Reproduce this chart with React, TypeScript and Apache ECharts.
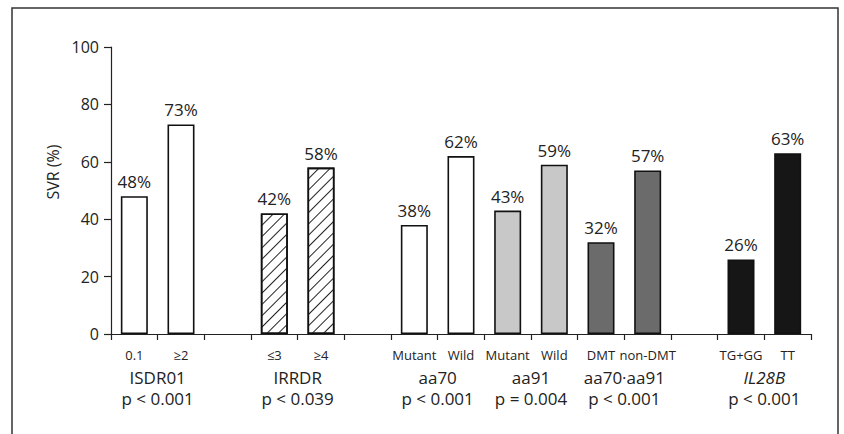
import React, { useEffect, useRef } from "react";
import * as echarts from "echarts";

// ---- data ----
const categories = ["0.1", "≥2", "", "≤3", "≥4", "", "Mutant", "Wild", "Mutant", "Wild", "DMT", "non-DMT", "", "TG+GG", "TT"];
const svrValues: (number | null)[] = [48, 73, null, 42, 58, null, 38, 62, 43, 59, 32, 57, null, 26, 63];
const groupNames = ["ISDR01", "IRRDR", "aa70", "aa91", "aa70·aa91", "IL28B"];
const pValues = ["p < 0.001", "p < 0.039", "p < 0.001", "p = 0.004", "p < 0.001", "p < 0.001"];
const groupMembers = [[0, 1], [3, 4], [6, 7], [8, 9], [10, 11], [13, 14]];
const yTicks = [0, 20, 40, 60, 80, 100];

const FONT = "Open Sans";

export default function App() {
  const ref = useRef<HTMLDivElement>(null);
  useEffect(() => {
    if (!ref.current) return;
    const chart = echarts.init(ref.current, null, { renderer: "svg" });

    const groupStyles: any[] = [
      { color: "#ffffff" },
      {
        color: "#ffffff",
        decal: {
          symbol: "rect",
          symbolSize: 1,
          color: "#222",
          dashArrayX: [1, 0],
          dashArrayY: [1, 7],
          rotation: -Math.PI / 4,
        },
      },
      { color: "#ffffff" },
      { color: "#c8c8c8" },
      { color: "#6b6b6b" },
      { color: "#161616" },
    ];

    const groupOf = (i: number) => groupMembers.findIndex((m) => m.includes(i));

    const data = svrValues.map((v, i) => {
      if (v === null) return { value: null };
      const g = groupOf(i);
      return {
        value: v,
        itemStyle: { ...groupStyles[g], borderColor: "#111", borderWidth: 1.6 },
      };
    });

    const groupCenters = groupMembers.map((m) => (m[0] + m[1] + 1) / 2);

    chart.setOption({
      animation: false,
      textStyle: { fontFamily: FONT },
      grid: { left: 111, right: 33, top: 47, bottom: 100, containLabel: false },
      xAxis: [
        {
          type: "category",
          data: categories,
          boundaryGap: true,
          axisLine: { show: true, lineStyle: { color: "#222", width: 1.2 } },
          axisTick: { show: true, interval: 0, length: 6, lineStyle: { color: "#222", width: 1.2 } },
          axisLabel: { interval: 0, fontSize: 13, color: "#222", margin: 14, fontFamily: FONT },
        },
        {
          type: "value",
          min: 0,
          max: categories.length,
          position: "bottom",
          axisLine: { show: false },
          axisTick: { show: false },
          splitLine: { show: false },
          axisLabel: {
            customValues: groupCenters,
            margin: 33,
            fontFamily: FONT,
            color: "#222",
            formatter: (val: number) => {
              const gi = groupCenters.findIndex((c) => Math.abs(c - val) < 1e-6);
              if (gi < 0) return "";
              const nameStyle = groupNames[gi] === "IL28B" ? "it" : "n";
              return `{${nameStyle}|${groupNames[gi]}}\n{p|${pValues[gi]}}`;
            },
            rich: {
              n: { fontSize: 17, lineHeight: 21, color: "#222", fontFamily: FONT },
              it: { fontSize: 17, lineHeight: 21, color: "#222", fontStyle: "italic", fontFamily: FONT },
              p: { fontSize: 17, lineHeight: 21, color: "#222", fontFamily: FONT },
            },
          },
        },
      ],
      yAxis: {
        type: "value",
        min: yTicks[0],
        max: yTicks[yTicks.length - 1],
        interval: yTicks[1] - yTicks[0],
        axisLine: { show: true, lineStyle: { color: "#222", width: 1.2 } },
        axisTick: { show: true, length: 7, lineStyle: { color: "#222", width: 1.2 } },
        splitLine: { show: false },
        axisLabel: { fontSize: 16, color: "#222", margin: 12, fontFamily: FONT },
      },
      graphic: [
        {
          type: "rect",
          shape: { x: 12, y: 8, width: 826, height: 440 },
          style: { fill: "none", stroke: "#333", lineWidth: 1.5 },
          silent: true,
        },
        {
          type: "text",
          x: 53,
          y: 172,
          rotation: Math.PI / 2,
          style: {
            text: "SVR (%)",
            fontSize: 16,
            fill: "#222",
            fontFamily: FONT,
            align: "center",
            verticalAlign: "middle",
          },
        },
      ],
      series: [
        {
          type: "bar",
          xAxisIndex: 0,
          yAxisIndex: 0,
          data,
          barWidth: 27,
          label: {
            show: true,
            position: "top",
            distance: 6,
            fontSize: 17,
            color: "#222",
            fontFamily: FONT,
            formatter: (p: any) => (p.value == null ? "" : `${p.value}%`),
          },
        },
      ],
    });
    return () => chart.dispose();
  }, []);

  return (
    <div
      ref={ref}
      style={{ position: "fixed", left: 0, top: 0, width: 844, height: 434, background: "#fff" }}
    />
  );
}
